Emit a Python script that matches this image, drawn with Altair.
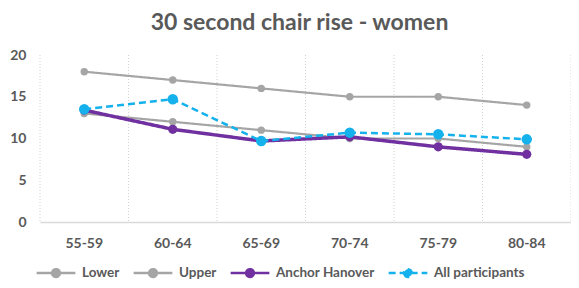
import altair as alt
import pandas as pd

ages = ["55-59", "60-64", "65-69", "70-74", "75-79", "80-84"]
lower = [13, 12, 11, 10, 10, 9]
upper = [18, 17, 16, 15, 15, 14]
anchor = [13.4, 11.1, 9.7, 10.2, 9.0, 8.1]
allp = [13.5, 14.7, 9.7, 10.7, 10.5, 9.9]

series_names = ["Lower", "Upper", "Anchor Hanover", "All participants"]
series_vals = [lower, upper, anchor, allp]
colors = ["#a5a5a5", "#a5a5a5", "#7030a0", "#14b1ec"]
dashes = [[1, 0], [1, 0], [1, 0], [7, 4]]

rows = []
for name, vals in zip(series_names, series_vals):
    for a, v in zip(ages, vals):
        rows.append({"age": a, "value": v, "series": name})
df = pd.DataFrame(rows)
cats = pd.DataFrame({"age": ages})

FONT = "Lato"
LABEL = "#595959"
H = 167

xscale = alt.Scale(type="band", domain=ages, paddingInner=0, paddingOuter=0)
xaxis = alt.Axis(title=None, labelAngle=0, ticks=False, grid=False, bandPosition=0.5,
                 domainColor="#d9d9d9", domainWidth=1.5,
                 labelFont=FONT, labelFontSize=14, labelFontWeight="bold",
                 labelColor=LABEL, labelPadding=14)
xenc = alt.X("age:N", sort=ages, bandPosition=0.5, scale=xscale, axis=xaxis)
yenc = alt.Y("value:Q", scale=alt.Scale(domain=[0, 20]),
             axis=alt.Axis(title=None, values=[0, 5, 10, 15, 20], grid=False, domain=False,
                           ticks=False, labelFont=FONT, labelFontSize=14,
                           labelFontWeight="bold", labelColor=LABEL, labelPadding=14))

color = alt.Color("series:N",
                  scale=alt.Scale(domain=series_names, range=colors),
                  legend=alt.Legend(title=None, orient="none", direction="horizontal",
                                    legendX=-5, legendY=197,
                                    symbolType="M-1,0H1M-0.2,0A0.2,0.2,0,1,0,0.2,0A0.2,0.2,0,1,0,-0.2,0Z",
                                    symbolSize=1500, symbolStrokeWidth=2.5,
                                    labelFont=FONT, labelFontSize=13.5, labelFontWeight="bold",
                                    labelColor=LABEL, columnPadding=8, labelOffset=5))
dash = alt.StrokeDash("series:N",
                      scale=alt.Scale(domain=series_names, range=dashes), legend=None)

grid0 = alt.Chart(cats).mark_rule(color="#d0d0d0", strokeDash=[1, 2], strokeWidth=1).encode(
    x=alt.X("age:N", sort=ages, bandPosition=0, scale=xscale, axis=xaxis),
    y=alt.value(0), y2=alt.value(H))
grid1 = alt.Chart(cats).transform_filter(alt.datum.age == ages[-1]).mark_rule(
    color="#d0d0d0", strokeDash=[1, 2], strokeWidth=1).encode(
    x=alt.X("age:N", sort=ages, bandPosition=1, scale=xscale, axis=xaxis),
    y=alt.value(0), y2=alt.value(H))

layers = [grid0, grid1]
widths = {"Lower": 2.2, "Upper": 2.2, "Anchor Hanover": 3.5, "All participants": 2.5}
sizes = {"Lower": 55, "Upper": 55, "Anchor Hanover": 85, "All participants": 110}
for name in series_names:
    base = alt.Chart(df).transform_filter(alt.datum.series == name)
    layers.append(base.mark_line(strokeWidth=widths[name]).encode(
        x=xenc, y=yenc, color=color, strokeDash=dash))
    layers.append(base.mark_point(filled=True, opacity=1, size=sizes[name]).encode(
        x=xenc, y=yenc, color=color))

chart = alt.layer(*layers).properties(
    width=531, height=H,
    title=alt.Title("30 second chair rise - women", font=FONT, fontSize=23,
                    fontWeight="bold", color=LABEL, offset=13, anchor="middle", dx=-6),
    autosize=alt.AutoSizeParams(type="none"),
    padding={"left": 32, "top": 47, "right": 0, "bottom": 58},
).configure_view(stroke=None)

chart.save("out.html", embed_options={"renderer": "svg", "actions": False})
